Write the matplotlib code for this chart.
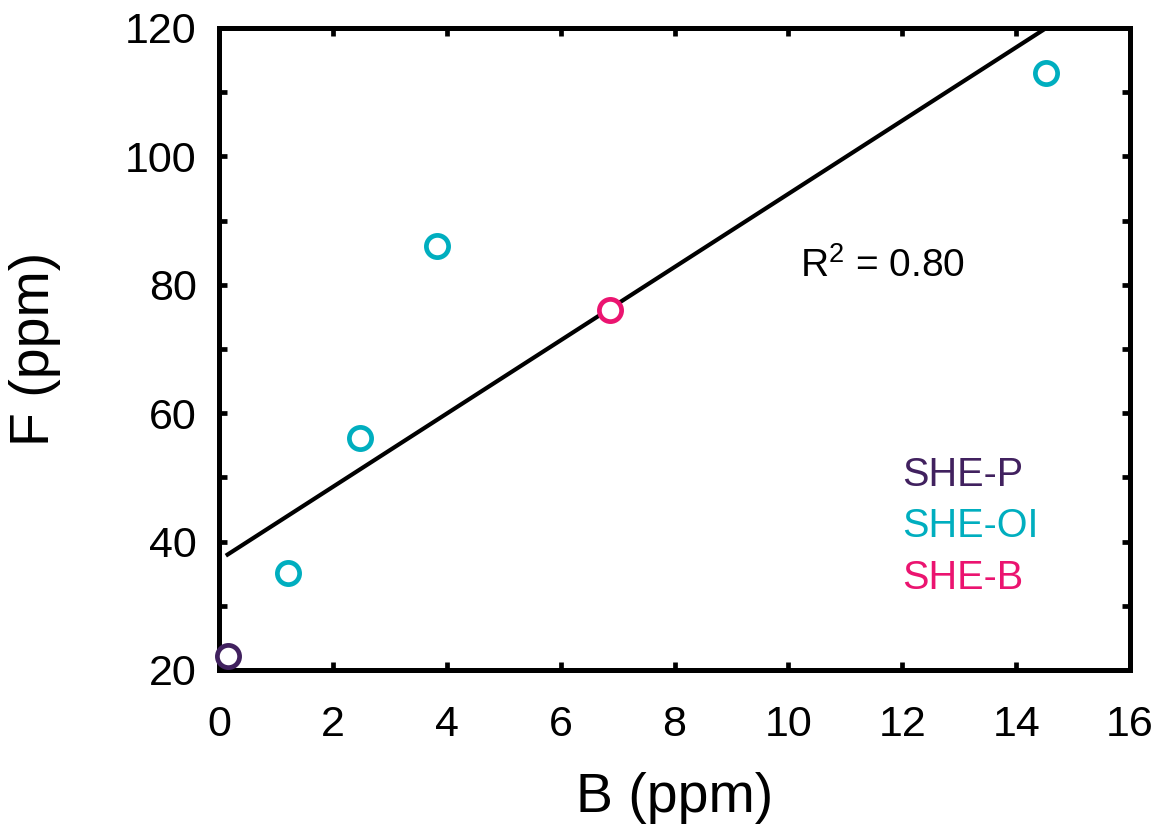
import numpy as np
import matplotlib
matplotlib.use('Agg')
import matplotlib.pyplot as plt

plt.rcParams['font.family'] = ['Liberation Sans', 'DejaVu Sans']
plt.rcParams['mathtext.fontset'] = 'custom'
plt.rcParams['mathtext.rm'] = 'Liberation Sans'
plt.rcParams['mathtext.it'] = 'Liberation Sans'

# Donnees
groupes = ['SHE-P', 'SHE-OI', 'SHE-B']
couleurs = ['#41215F', '#00AEBF', '#EB1470']
B_P = [0.15]
F_P = [22.2]
B_OI = [1.21, 2.48, 3.83, 14.52]
F_OI = [35.1, 56.1, 86.0, 113.0]
B_B = [6.87]
F_B = [76.1]

B_tout = np.array(B_P + B_OI + B_B)
F_tout = np.array(F_P + F_OI + F_B)

fig = plt.figure(figsize=(11.67, 8.38), dpi=100)
ax = fig.add_axes([0.1877, 0.2005, 0.7806, 0.7661])

# Droite de regression
pente, ordonnee = np.polyfit(B_tout, F_tout, 1)
xl = np.array([B_tout.min(), B_tout.max()])
ax.plot(xl, pente * xl + ordonnee, color='black', lw=3.0, zorder=2)

# Points
for bx, fy, c in zip([B_P, B_OI, B_B], [F_P, F_OI, F_B], couleurs):
    ax.plot(bx, fy, 'o', ms=16, mfc='white', mec=c, mew=3.4,
            clip_on=False, zorder=5)

ax.set_xlim(0, 16)
ax.set_ylim(20, 120)
ax.set_xticks(np.arange(0, 17, 2))
ax.set_yticks(np.arange(20, 121, 20))
ax.set_yticks(np.arange(30, 120, 20), minor=True)

for s in ax.spines.values():
    s.set_linewidth(3.6)
ax.tick_params(which='both', direction='in', top=True, right=True,
               length=6, width=3.4, labelsize=31)
ax.tick_params(axis='x', pad=25)
ax.tick_params(axis='y', pad=16)

ax.set_xlabel('B (ppm)', fontsize=40, labelpad=20)
ax.set_ylabel('F (ppm)', fontsize=40, labelpad=46)

ax.text(10.2, 83.0, r'R$^2$ = 0.80', fontsize=28, ha='left', va='center')

# Legende en texte colore
for i, (g, c) in enumerate(zip(groupes, couleurs)):
    ax.text(12.0, 50.4 - 8.0 * i, g, color=c, fontsize=28.5,
            ha='left', va='center')

fig.savefig('out.png', dpi=100)
